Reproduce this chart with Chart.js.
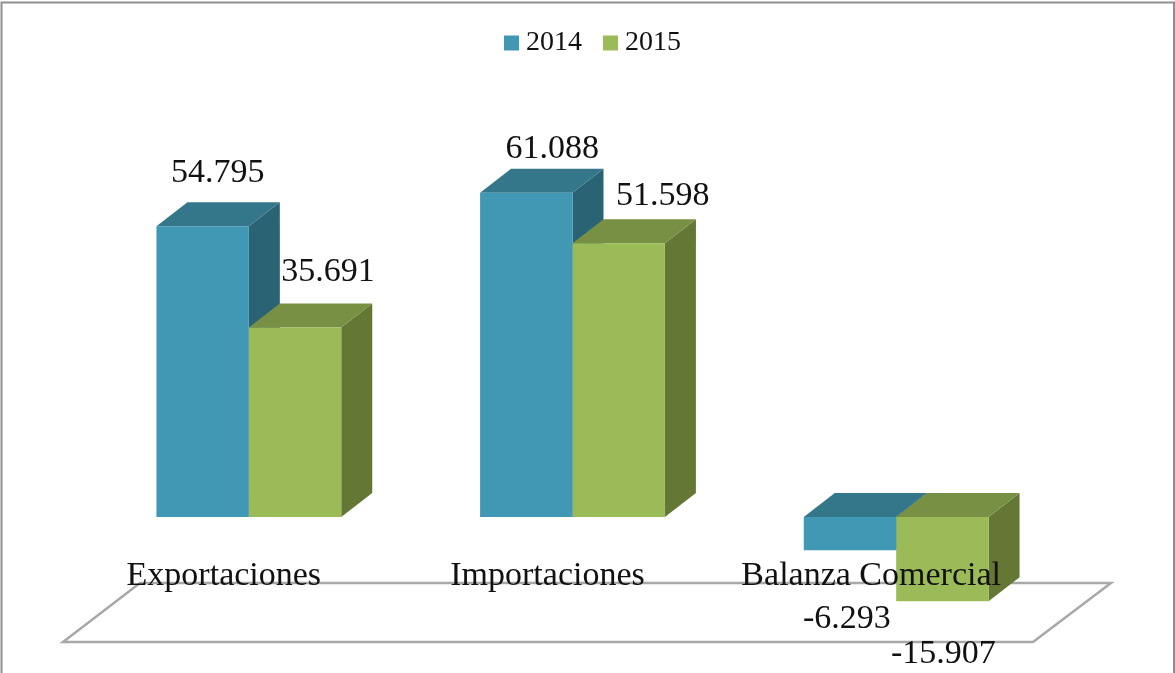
<!DOCTYPE html>
<html>
<head>
<meta charset="utf-8">
<title>Balanza Comercial</title>
<script src="https://cdn.jsdelivr.net/npm/chart.js@4"></script>
<style>
    html, body { margin: 0; padding: 0; background: #fff; overflow: hidden; }
    #wrap { width: 1175px; height: 673px; }
</style>
</head>
<body>
<div id="wrap"><canvas id="chart" width="1175" height="673"></canvas></div>
<script>
const categories = ['Exportaciones', 'Importaciones', 'Balanza Comercial'];
const years = ['2014', '2015'];
const values2014 = [54.795, 61.088, -6.293];
const values2015 = [35.691, 51.598, -15.907];

// label placement relative to the end of each bar, [dx, dy]
const labelNudge2014 = [[15, -53], [26, -44], [-3, 69]];
const labelNudge2015 = [[33, -55], [44, -47], [1, 53]];

const serif = '"Liberation Serif", serif';
const depthX = 31;
const depthY = 24;

function face(ctx, color, points) {
    ctx.fillStyle = color;
    ctx.beginPath();
    points.forEach((p, i) => i ? ctx.lineTo(p[0], p[1]) : ctx.moveTo(p[0], p[1]));
    ctx.closePath();
    ctx.fill();
}

const frameAndFloor = {
    id: 'frameAndFloor',
    beforeDatasetsDraw(chart) {
        const ctx = chart.ctx;
        ctx.save();
        ctx.strokeStyle = '#8f8f8f';
        ctx.lineWidth = 2;
        ctx.beginPath();
        ctx.moveTo(1.5, 673);
        ctx.lineTo(1.5, 2.5);
        ctx.lineTo(1174, 2.5);
        ctx.lineTo(1174, 673);
        ctx.stroke();

        ctx.strokeStyle = '#a8a8a8';
        ctx.lineWidth = 2.5;
        ctx.beginPath();
        ctx.moveTo(63, 642);
        ctx.lineTo(1033, 642);
        ctx.lineTo(1111, 583);
        ctx.lineTo(140, 583);
        ctx.closePath();
        ctx.stroke();
        ctx.restore();
    }
};

// sides and tops go under everything, the library then paints the fronts over them
const bars3d = {
    id: 'bars3d',
    beforeDatasetsDraw(chart) {
        chart.data.datasets.forEach((ds, d) => {
            chart.getDatasetMeta(d).data.forEach(bar => {
                const left = bar.x - bar.width / 2;
                const right = bar.x + bar.width / 2;
                const top = Math.min(bar.y, bar.base);
                const bottom = Math.max(bar.y, bar.base);
                face(chart.ctx, ds.sideColor, [[right, top], [right + depthX, top - depthY], [right + depthX, bottom - depthY], [right, bottom]]);
                face(chart.ctx, ds.topColor, [[left, top], [left + depthX, top - depthY], [right + depthX, top - depthY], [right, top]]);
            });
        });
    }
};

const valueLabels = {
    id: 'valueLabels',
    afterDatasetsDraw(chart) {
        const ctx = chart.ctx;
        ctx.save();
        ctx.font = '34px ' + serif;
        ctx.fillStyle = '#111';
        ctx.textAlign = 'center';
        ctx.textBaseline = 'middle';
        chart.data.datasets.forEach((ds, d) => {
            chart.getDatasetMeta(d).data.forEach((bar, i) => {
                const nudge = ds.nudges[i];
                ctx.fillText(ds.data[i].toFixed(3), bar.x + nudge[0], bar.y + nudge[1]);
            });
        });
        ctx.restore();
    }
};

new Chart(document.getElementById('chart'), {
    type: 'bar',
    data: {
        labels: categories,
        datasets: [
            { label: years[0], data: values2014, nudges: labelNudge2014, backgroundColor: '#4198b4', topColor: '#34778a', sideColor: '#2a6374' },
            { label: years[1], data: values2015, nudges: labelNudge2015, backgroundColor: '#9bbb59', topColor: '#789044', sideColor: '#647734' }
        ]
    },
    options: {
        responsive: false,
        animation: false,
        layout: { padding: { left: 87, right: 117, top: 0, bottom: 50 } },
        categoryPercentage: 0.571,
        barPercentage: 1,
        plugins: {
            tooltip: { enabled: false },
            legend: {
                position: 'top',
                labels: {
                    boxWidth: 1,
                    boxHeight: 1,
                    padding: 28,
                    color: '#111',
                    font: { family: serif, size: 28 },
                    // a thick outline on a tiny box keeps the text close to the swatch
                    generateLabels(chart) {
                        return Chart.defaults.plugins.legend.labels.generateLabels(chart).map(item => {
                            item.lineWidth = 14;
                            item.strokeStyle = item.fillStyle;
                            return item;
                        });
                    }
                }
            }
        },
        scales: {
            x: {
                position: { y: 0 },
                grid: { display: false },
                border: { display: false },
                ticks: {
                    z: 1,
                    color: '#111',
                    font: { family: serif, size: 34 },
                    padding: 31,
                    labelOffset: -25,
                    maxRotation: 0,
                    autoSkip: false
                }
            },
            y: {
                display: false,
                min: -20,
                max: 85
            }
        }
    },
    plugins: [frameAndFloor, bars3d, valueLabels, {
        id: 'legendShift',
        afterLayout(chart) {
            chart.legend.left += 23.5;
            chart.legend.right += 23.5;
            chart.legend.top += 1;
            chart.legend.bottom += 1;
        }
    }]
});
</script>
</body>
</html>
